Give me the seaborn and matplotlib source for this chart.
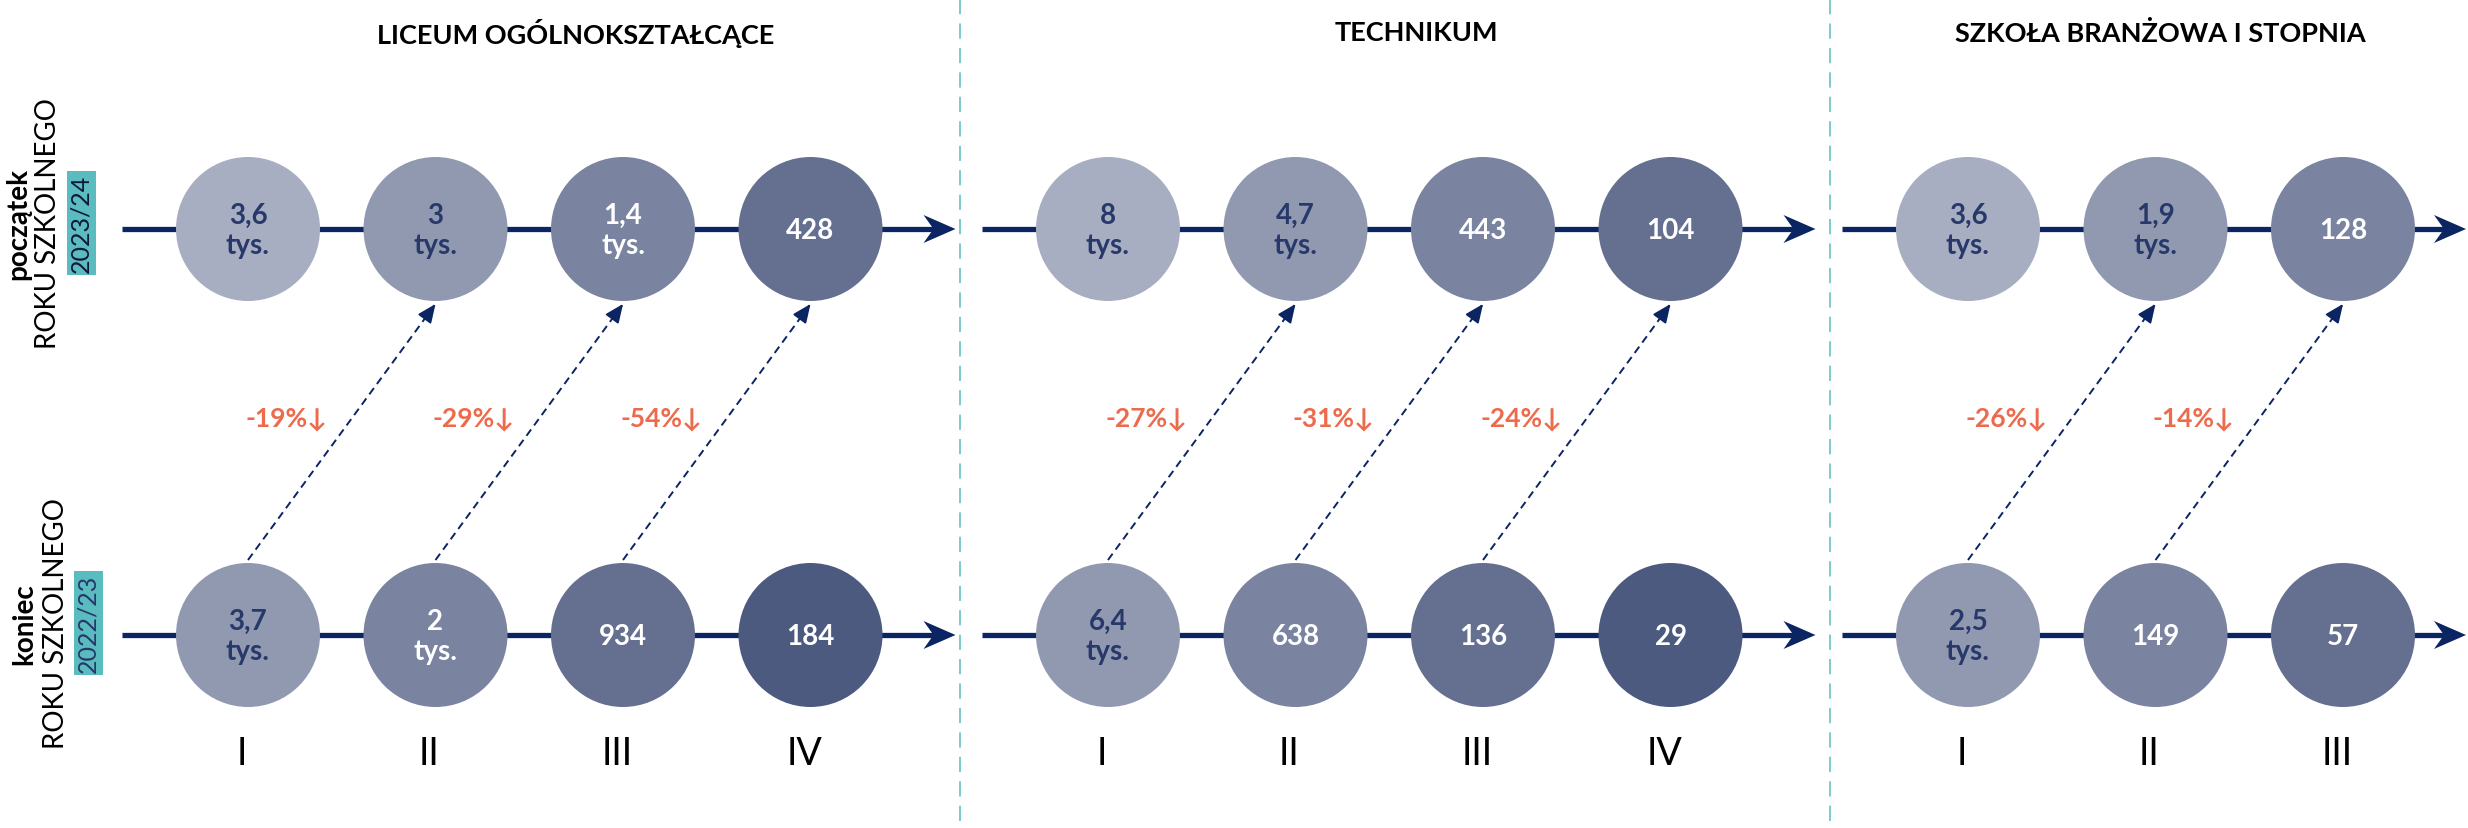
import numpy as np
import pandas as pd
import matplotlib
matplotlib.use("Agg")
import matplotlib.pyplot as plt
from matplotlib.patches import Polygon
import seaborn as sns

# dane: liczba uczniów na koniec roku 2022/23 i na początku 2023/24
SECTIONS = ["LICEUM OGÓLNOKSZTAŁCĄCE", "TECHNIKUM", "SZKOŁA BRANŻOWA I STOPNIA"]
GRADES = [["I", "II", "III", "IV"], ["I", "II", "III", "IV"], ["I", "II", "III"]]
START_2023 = [[3600, 3000, 1400, 428], [8000, 4700, 443, 104], [3600, 1900, 128]]
END_2022 = [[3700, 2000, 934, 184], [6400, 638, 136, 29], [2500, 149, 57]]
CHANGE = [[-19, -29, -54], [-27, -31, -24], [-26, -14]]

# układ (piksele)
W, H = 2468, 829
SEC_X0 = [248, 1108, 1968]
STEP = 187.5
TITLE_X = [576, 1416, 2160]
DIVIDERS = [960, 1830]
Y_TOP, Y_BOT = 230, 636
R = 72
Y_NUM = 754
Y_PCT = 419

NAVY = "#0B2462"
TXT_DARK = "#27386A"
CORAL = "#EE6A4C"
TEAL = "#5BBCBF"
SHADES = ["#A8AEC1", "#9199B0", "#7A84A0", "#656F90", "#4D5A80"]

sns.set_theme(style="white")
plt.rcParams["font.family"] = ["Lato", "DejaVu Sans"]


def fmt(v):
    if v >= 1000:
        s = f"{v / 1000:.1f}".replace(".", ",")
        if s.endswith(",0"):
            s = s[:-2]
        return s + "\ntys."
    return str(v)


rows = []
for s, sec in enumerate(SECTIONS):
    for i, g in enumerate(GRADES[s]):
        x = SEC_X0[s] + i * STEP
        rows.append(dict(sec=sec, grade=g, row="top", x=x, y=Y_TOP,
                         value=START_2023[s][i], shade=i))
        rows.append(dict(sec=sec, grade=g, row="bot", x=x, y=Y_BOT,
                         value=END_2022[s][i], shade=i + 1))
df = pd.DataFrame(rows)

fig = plt.figure(figsize=(W / 100, H / 100), dpi=100)
ax = fig.add_axes([0, 0, 1, 1])
ax.set_xlim(0, W)
ax.set_ylim(H, 0)
ax.axis("off")

# osie czasu ze strzałkami
for s in range(len(SECTIONS)):
    xs = [SEC_X0[s] + i * STEP for i in range(len(GRADES[s]))]
    x_start = xs[0] - 126
    x_tip = min(xs[-1] + 145, W - 2)
    for y in (Y_TOP, Y_BOT):
        ax.plot([x_start, x_tip - 22], [y, y], color=NAVY, lw=3.8,
                solid_capstyle="butt", zorder=1)
        head = [(x_tip, y), (x_tip - 32, y - 14), (x_tip - 22, y), (x_tip - 32, y + 14)]
        ax.add_patch(Polygon(head, closed=True, color=NAVY, lw=0, zorder=1))

# kółka
diam_pt = 2 * R * 0.72
sns.scatterplot(data=df, x="x", y="y", hue="shade",
                palette={k: c for k, c in enumerate(SHADES)},
                s=diam_pt ** 2, linewidth=0, legend=False, ax=ax, zorder=3)

for _, r in df.iterrows():
    col = TXT_DARK if r["shade"] <= 1 else "white"
    ax.text(r["x"], r["y"] + 1, fmt(r["value"]), ha="center", va="center",
            fontsize=20, fontweight="bold", color=col, linespacing=1.2, zorder=4)

# przejścia z klasy do klasy
for s in range(len(SECTIONS)):
    for i, c in enumerate(CHANGE[s]):
        xb = SEC_X0[s] + i * STEP
        xt = SEC_X0[s] + (i + 1) * STEP
        yb = Y_BOT - R - 3
        yt = Y_TOP + R + 3
        ax.plot([xb, xt], [yb, yt], color=NAVY, lw=1.4, ls=(0, (4, 2.6)), zorder=2)
        dx, dy = xt - xb, yt - yb
        ln = np.hypot(dx, dy)
        ax.annotate("", xy=(xt, yt), xytext=(xt - dx / ln * 14, yt - dy / ln * 14),
                    arrowprops=dict(arrowstyle="-|>,head_length=0.8,head_width=0.35",
                                    color=NAVY, lw=1.4, mutation_scale=14,
                                    shrinkA=0, shrinkB=0), zorder=2)
        t = (yb - Y_PCT) / (yb - yt)
        xl = xb + t * dx - 66
        ax.text(xl, Y_PCT, f"{c}%↓", ha="center", va="center", fontsize=19,
                fontweight="bold", color=CORAL, family=["Lato", "DejaVu Sans"])

# numery klas
for s in range(len(SECTIONS)):
    for i, g in enumerate(GRADES[s]):
        ax.text(SEC_X0[s] + i * STEP - 6, Y_NUM, g, ha="center", va="center",
                fontsize=27, fontweight="normal", color="black")

# tytuły sekcji
for s, sec in enumerate(SECTIONS):
    ax.text(TITLE_X[s], 33, sec, ha="center", va="center", fontsize=19.5,
            fontweight="bold", color="black")

# linie podziału
for xd in DIVIDERS:
    ax.plot([xd, xd], [0, H], color=TEAL, lw=1.1, ls=(0, (10, 6)), zorder=0)

# opisy wierszy
box = dict(boxstyle="square,pad=0.12", fc=TEAL, ec="none")
ax.text(18, 224, "początek", rotation=90, ha="center", va="center",
        fontsize=20, fontweight="bold", color="black")
ax.text(48, 224, "ROKU SZKOLNEGO", rotation=90, ha="center", va="center",
        fontsize=20, color="black")
ax.text(81, 224, "2023/24", rotation=90, ha="center", va="center",
        fontsize=18, color="#10183A", bbox=box)

ax.text(24, 624, "koniec", rotation=90, ha="center", va="center",
        fontsize=20, fontweight="bold", color="black")
ax.text(56, 624, "ROKU SZKOLNEGO", rotation=90, ha="center", va="center",
        fontsize=20, color="black")
ax.text(88, 624, "2022/23", rotation=90, ha="center", va="center",
        fontsize=18, color=TXT_DARK, bbox=box)

fig.savefig("out.png", dpi=100)
